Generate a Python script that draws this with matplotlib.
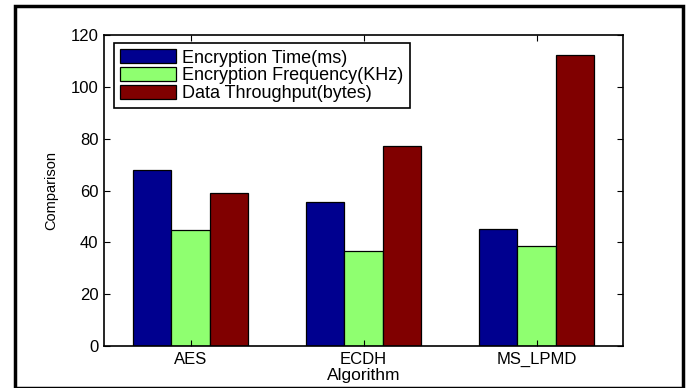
import numpy as np
import matplotlib.pyplot as plt
from matplotlib.patches import Rectangle

plt.rcParams['font.family'] = ['Liberation Sans', 'DejaVu Sans']

algorithms = ['AES', 'ECDH', 'MS_LPMD']
enc_time = [68.1, 55.6, 45.1]
enc_freq = [44.8, 36.7, 38.5]
throughput = [59.2, 77.1, 112.2]
series_names = ['Encryption Time(ms)', 'Encryption Frequency(KHz)', 'Data Throughput(bytes)']
colors = ['#00008f', '#8fff70', '#800000']

fig = plt.figure(figsize=(6.91, 3.88), dpi=100)
ax = fig.add_axes([104 / 691, 1 - 346 / 388, 519 / 691, 311 / 388])

x = np.arange(1, len(algorithms) + 1)
w = 0.222
for k, (vals, name, c) in enumerate(zip([enc_time, enc_freq, throughput], series_names, colors)):
    ax.bar(x + (k - 1) * w, vals, w, color=c, edgecolor='black', linewidth=0.9, label=name)

ax.set_xlim(0.5, 3.5)
ax.set_ylim(0, 120)
ax.set_yticks(np.arange(0, 121, 20))
ax.set_xticks(x)
ax.set_xticklabels(algorithms)
ax.tick_params(direction='in', top=True, right=True, length=4, labelsize=12, width=0.8, pad=4)
for s in ax.spines.values():
    s.set_linewidth(1.2)

ax.set_xlabel('Algorithm', fontsize=12.5, labelpad=1)
ax.set_ylabel('Comparison', fontsize=10.5, labelpad=9)

leg = ax.legend(loc='upper left', bbox_to_anchor=(0.019, 0.975), fontsize=13,
                fancybox=False, framealpha=1, edgecolor='black',
                handlelength=3.1, handleheight=0.85, handletextpad=0.35,
                labelspacing=0.02, borderpad=0.35, borderaxespad=0)
leg.get_frame().set_linewidth(1.2)

# border around the whole figure
fig.patches.append(Rectangle((15 / 691, 0), 668 / 691, 1 - 6 / 388,
                             transform=fig.transFigure, fill=False,
                             edgecolor='black', linewidth=2.5))

fig.savefig('out.png', dpi=100)
